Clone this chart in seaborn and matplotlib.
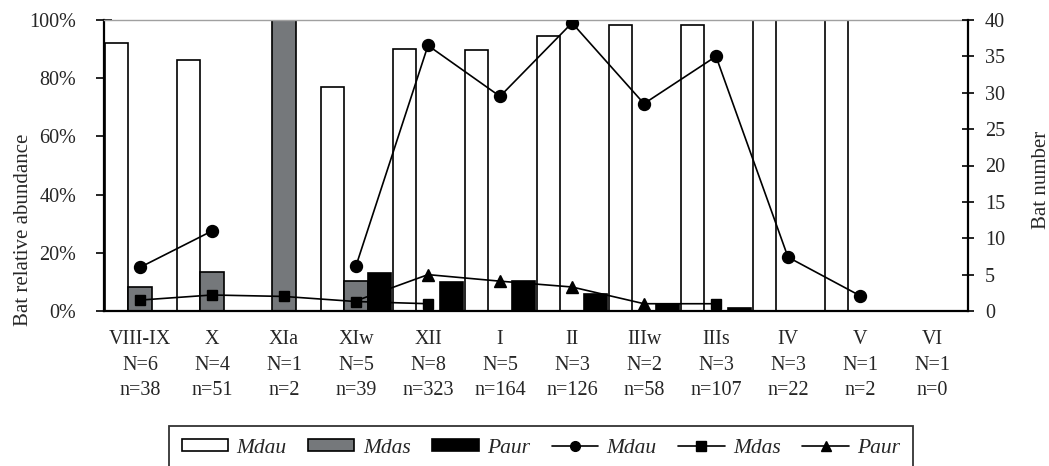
import numpy as np
import pandas as pd
import matplotlib
matplotlib.use("Agg")
import matplotlib.pyplot as plt
import seaborn as sns
from matplotlib.lines import Line2D
from matplotlib.patches import Patch

# ---- data ----
periods = ["VIII-IX", "X", "XIa", "XIw", "XII", "I", "II", "IIIw", "IIIs", "IV", "V", "VI"]
nights = [6, 4, 1, 5, 8, 5, 3, 2, 3, 3, 1, 1]
captures = [38, 51, 2, 39, 323, 164, 126, 58, 107, 22, 2, 0]
species = ["Mdau", "Mdas", "Paur"]

mdau_pct = [92.2, 86.1, 0, 77.1, 89.9, 89.8, 94.6, 98.3, 98.3, 100, 100, 0]
mdas_pct = [8.1, 13.4, 100, 10.4, 0, 0, 0, 0, 0, 0, 0, 0]
paur_pct = [0, 0, 0, 13.0, 10.1, 10.4, 5.7, 2.3, 1.0, 0, 0, 0]

nan = np.nan
mdau_num = [6.0, 11.0, nan, 6.2, 36.5, 29.5, 39.6, 28.5, 35.0, 7.4, 2.1, nan]
mdas_num = [1.5, 2.2, 2.0, 1.3, 1.0, nan, nan, 1.0, 1.0, nan, nan, nan]
paur_num = [nan, nan, nan, 1.4, 5.0, 4.1, 3.3, 1.0, nan, nan, nan, nan]

tick_labels = [f"{p}\nN={a}\nn={b}" for p, a, b in zip(periods, nights, captures)]

# ---- style ----
sns.set_theme(style="white")
plt.rcParams["font.family"] = ["Liberation Serif", "DejaVu Serif"]
plt.rcParams["font.size"] = 14

GRAY = "#75787b"
W, H = 1049, 466
fig = plt.figure(figsize=(W / 100, H / 100), dpi=100)
ax = fig.add_axes([104 / W, 1 - 311 / H, (968 - 104) / W, 291 / H])

df = pd.DataFrame({
    "period": periods * 3,
    "species": np.repeat(species, len(periods)),
    "pct": mdau_pct + mdas_pct + paur_pct,
})
sns.barplot(data=df, x="period", y="pct", hue="species", order=periods,
            hue_order=species,
            palette={"Mdau": "white", "Mdas": GRAY, "Paur": "black"},
            width=0.96, gap=0, saturation=1, edgecolor="black", linewidth=1.2,
            errorbar=None, legend=False, ax=ax)

ax.set_xlim(-0.5, len(periods) - 0.5)
ax.set_ylim(0, 100)
ax.set_yticks(np.arange(0, 101, 20))
ax.set_yticklabels([f"{v}%" for v in range(0, 101, 20)], fontsize=14.5)
ax.set_xticks(np.arange(len(periods)))
ax.set_xticklabels(tick_labels, fontsize=14.5, linespacing=1.45)
ax.set_xticks(np.arange(-0.5, len(periods)), minor=True)
ax.tick_params(axis="x", which="major", length=0, pad=14)
ax.tick_params(axis="x", which="minor", direction="inout", length=8.5, width=1.2, color="black")
ax.tick_params(axis="y", direction="inout", length=12, width=1.2, color="black", pad=14, left=True)
ax.set_xlabel("")
ax.set_ylabel("Bat relative abundance", fontsize=15)
ax.yaxis.set_label_coords(-0.082, 0.28)

for s in ["left", "bottom"]:
    ax.spines[s].set_color("black")
    ax.spines[s].set_linewidth(1.6)
ax.spines["right"].set_visible(False)
ax.spines["top"].set_color("#a0a0a0")
ax.spines["top"].set_linewidth(1.0)

ax2 = ax.twinx()
x = np.arange(len(periods))
ax2.plot(x, mdau_num, "-o", color="black", lw=1.2, ms=8.6, zorder=3)
ax2.plot(x, mdas_num, "-s", color="black", lw=1.2, ms=7.8, zorder=3,
         markevery=[0, 1, 2, 3, 4, 8])
ax2.plot(x, paur_num, "-^", color="black", lw=1.2, ms=8.6, zorder=4,
         markevery=[4, 5, 6, 7])
ax2.set_ylim(0, 40)
ax2.set_yticks(np.arange(0, 41, 5))
ax2.tick_params(axis="y", direction="inout", length=8.5, width=1.2, color="black", pad=8,
                right=True, labelsize=14.5)
ax2.set_ylabel("Bat number", fontsize=15, rotation=90)
ax2.yaxis.set_label_coords(1.074, 0.45)
for s in ["left", "bottom", "top"]:
    ax2.spines[s].set_visible(False)
ax2.spines["right"].set_color("black")
ax2.spines["right"].set_linewidth(1.6)

handles = [
    Patch(facecolor="white", edgecolor="black", linewidth=1.2, label="Mdau"),
    Patch(facecolor=GRAY, edgecolor="black", linewidth=1.2, label="Mdas"),
    Patch(facecolor="black", edgecolor="black", linewidth=1.2, label="Paur"),
    Line2D([], [], color="black", marker="o", lw=1.2, ms=7, label="Mdau"),
    Line2D([], [], color="black", marker="s", lw=1.2, ms=6.5, label="Mdas"),
    Line2D([], [], color="black", marker="^", lw=1.2, ms=7, label="Paur"),
]
leg = fig.legend(handles=handles, ncol=6, loc="upper center",
                 bbox_to_anchor=(541 / W, 1 - 426 / H), frameon=True, fancybox=False,
                 edgecolor="black", prop={"style": "italic", "size": 15.5},
                 handlelength=2.15, handletextpad=0.4, columnspacing=1.0,
                 borderpad=0.6, handleheight=0.5, borderaxespad=0)
leg.get_frame().set_linewidth(1.3)

fig.savefig("out.png", dpi=100)
